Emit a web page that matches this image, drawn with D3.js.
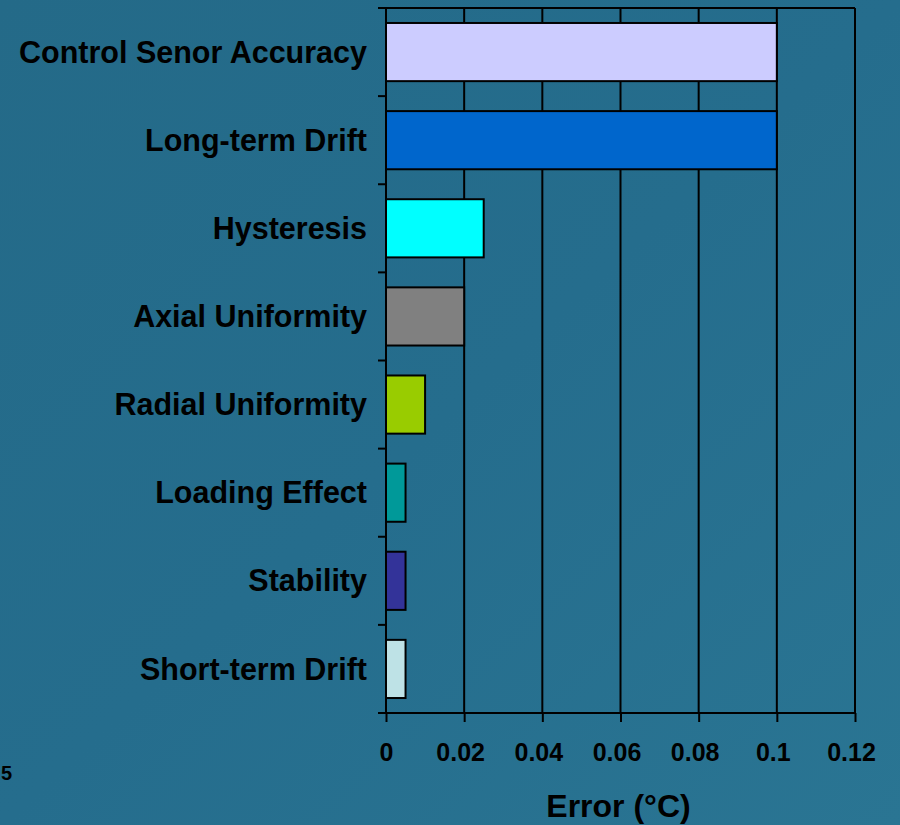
<!DOCTYPE html>
<html>
<head>
<meta charset="utf-8">
<script src="https://cdn.jsdelivr.net/npm/d3@7"></script>
<style>
  html, body { margin: 0; padding: 0; }
  body { width: 900px; height: 825px; overflow: hidden; }
  text { font-family: "Liberation Sans", Arial, sans-serif; font-weight: bold; fill: #000; }
</style>
</head>
<body>
<div id="chart"></div>
<script>
    const categories = ["Control Senor Accuracy", "Long-term Drift", "Hysteresis", "Axial Uniformity",
        "Radial Uniformity", "Loading Effect", "Stability", "Short-term Drift"];
    const errors = [0.1, 0.1, 0.025, 0.02, 0.01, 0.005, 0.005, 0.005];
    const barColors = ["#ccccff", "#0066cc", "#00ffff", "#808080", "#99cc00", "#009999", "#333399", "#bee2e6"];
    const xTicks = [0, 0.02, 0.04, 0.06, 0.08, 0.1, 0.12];
    const xTitle = "Error (°C)";

    function create_error_bars(targetElementId){
        const W = 900, H = 825;
        const margin = { top: 8, right: 45, bottom: 112, left: 386 };
        const width = W - margin.left - margin.right;
        const height = H - margin.top - margin.bottom;

        const root = d3.select(`#${targetElementId}`).append("svg")
            .attr("width", W)
            .attr("height", H);

        // background, roughly the teal slide texture
        const defs = root.append("defs");
        const grad = defs.append("linearGradient")
            .attr("id", "bg").attr("x1", 0).attr("y1", 0).attr("x2", 1).attr("y2", 1);
        grad.append("stop").attr("offset", "0%").attr("stop-color", "#246a88");
        grad.append("stop").attr("offset", "50%").attr("stop-color", "#256d8d");
        grad.append("stop").attr("offset", "100%").attr("stop-color", "#2a7593");
        root.append("rect").attr("width", W).attr("height", H).attr("fill", "url(#bg)");

        // slide number at the left edge
        root.append("text")
            .attr("x", 1).attr("y", 780)
            .style("font-size", "20px")
            .text("5");

        const svg = root.append("g")
            .attr("transform", `translate(${margin.left},${margin.top})`);

        const x = d3.scaleLinear()
            .domain([0, 0.12])
            .range([0, width]);

        const y = d3.scaleBand()
            .domain(categories)
            .range([0, height])
            .paddingInner(0.34)
            .paddingOuter(0.17);

        // vertical grid lines
        svg.selectAll(".gridLine")
            .data(xTicks.slice(1))
            .enter()
            .append("line")
                .attr("class", "gridLine")
                .attr("x1", d => x(d))
                .attr("x2", d => x(d))
                .attr("y1", 0)
                .attr("y2", height)
                .attr("stroke", "#000")
                .attr("stroke-width", 2);

        // top border
        svg.append("line")
            .attr("x1", 0).attr("x2", width)
            .attr("y1", 0).attr("y2", 0)
            .attr("stroke", "#000").attr("stroke-width", 2);

        const data = categories.map((c, i) => ({ name: c, value: errors[i], color: barColors[i] }));

        svg.selectAll(".bar")
            .data(data)
            .enter()
            .append("rect")
                .attr("class", "bar")
                .attr("x", x(0))
                .attr("y", d => y(d.name))
                .attr("width", d => x(d.value) - x(0))
                .attr("height", y.bandwidth())
                .attr("fill", d => d.color)
                .attr("stroke", "#000")
                .attr("stroke-width", 2);

        // category axis: ticks on band boundaries, labels centred in bands
        const bounds = d3.range(categories.length + 1).map(i => i * height / categories.length);
        svg.selectAll(".yTick")
            .data(bounds)
            .enter()
            .append("line")
                .attr("x1", -8).attr("x2", 0)
                .attr("y1", d => d).attr("y2", d => d)
                .attr("stroke", "#000").attr("stroke-width", 2);
        svg.append("line")
            .attr("x1", 0).attr("x2", 0)
            .attr("y1", 0).attr("y2", height)
            .attr("stroke", "#000").attr("stroke-width", 2);

        svg.selectAll(".yLabel")
            .data(categories)
            .enter()
            .append("text")
                .attr("class", "yLabel")
                .attr("x", -19)
                .attr("y", d => y(d) + y.bandwidth() / 2)
                .attr("dy", "0.35em")
                .attr("text-anchor", "end")
                .style("font-size", "30.5px")
                .text(d => d);

        // x axis
        svg.append("g")
            .attr("transform", `translate(0,${height})`)
            .call(d3.axisBottom(x)
                .tickValues(xTicks)
                .tickFormat(d => d3.format("~g")(d))
                .tickSize(9)
                .tickSizeOuter(0)
                .tickPadding(21))
            .call(g => g.select(".domain").attr("stroke-width", 2).attr("d", `M-8,0H${width}`))
            .call(g => g.selectAll(".tick line").attr("stroke-width", 2))
            .call(g => g.selectAll(".tick text")
                .attr("dx", d => d === 0 ? 0 : -4)
                .style("font-size", "25px")
                .style("font-family", "'Liberation Sans', Arial, sans-serif")
                .style("font-weight", "bold")
                .attr("fill", "#000"));

        svg.append("text")
            .attr("x", x(0.06) - 2)
            .attr("y", height + 104)
            .attr("text-anchor", "middle")
            .style("font-size", "32px")
            .text(xTitle);
    }

    create_error_bars("chart");
</script>
</body>
</html>
